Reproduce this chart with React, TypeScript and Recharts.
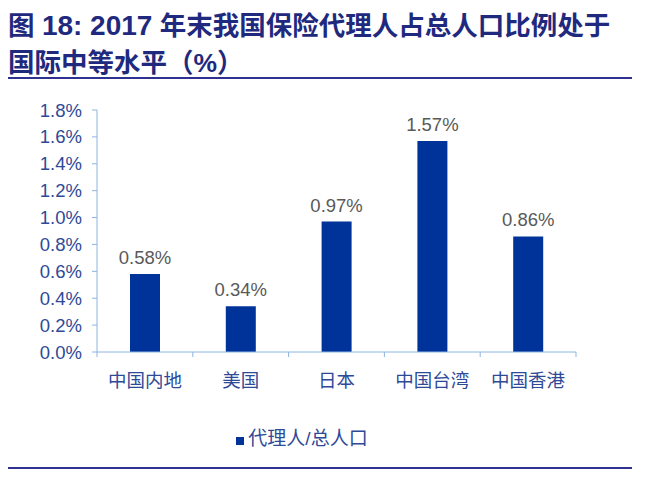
import React from 'react';
import { BarChart, Bar, XAxis, YAxis, Legend, LabelList } from 'recharts';

const regions = ['中国内地', '美国', '日本', '中国台湾', '中国香港'];
const agentShare = [0.58, 0.34, 0.97, 1.57, 0.86];
const yTicks = [0, 0.2, 0.4, 0.6, 0.8, 1.0, 1.2, 1.4, 1.6, 1.8];

const data = regions.map((name, i) => ({ name, value: agentShare[i] }));

const FONT = '"Liberation Sans", Arial, "Noto Sans CJK SC", sans-serif';
const AXIS_BLUE = '#8EB4E3';
const TEXT_BLUE = '#2E4A97';
const BAR_BLUE = '#003399';
// plot area is 479px wide, split into equal category bands
const BAND = 479 / regions.length;

const CategoryTick = (props: any) => {
  const { x, y, payload, index } = props;
  return (
    <g>
      {index === 0 && <line x1={x - BAND / 2} x2={x - BAND / 2} y1={y - 22} y2={y - 17} stroke={AXIS_BLUE} />}
      <line x1={x + BAND / 2} x2={x + BAND / 2} y1={y - 22} y2={y - 17} stroke={AXIS_BLUE} />
      <text x={x} y={y} dy="0.71em" textAnchor="middle" fill={TEXT_BLUE} fontSize={18.5} fontFamily={FONT}>
        {payload.value}
      </text>
    </g>
  );
};

const App: React.FC = () => {
  return (
    <div style={{ position: 'relative', width: 635, height: 462, fontFamily: FONT }}>
      <div
        style={{
          position: 'absolute', top: -1, left: 0, fontSize: 26.5, lineHeight: '37px',
          fontWeight: 'bold', color: '#1F2A7E', whiteSpace: 'nowrap',
        }}
      >
        <div>图 <span style={{ fontSize: 28 }}>18: 2017</span> 年末我国保险代理人占总人口比例处于</div>
        <div>国际中等水平（%）</div>
      </div>
      <div style={{ position: 'absolute', top: 69, left: 0, width: 624, height: 2, background: '#2E3192' }} />

      <div style={{ position: 'absolute', top: 82, left: 0 }}>
        <BarChart width={620} height={370} data={data} margin={{ top: 20, right: 52, left: 30, bottom: 13 }} barSize={30}>
          <YAxis
            domain={[0, 1.8]}
            ticks={yTicks}
            interval={0}
            width={59}
            tickSize={5}
            tickMargin={10}
            tickFormatter={(v: number) => `${v.toFixed(1)}%`}
            tick={{ fontSize: 18.5, fill: TEXT_BLUE, fontFamily: FONT }}
            axisLine={{ stroke: AXIS_BLUE }}
            tickLine={{ stroke: AXIS_BLUE }}
          />
          <XAxis
            dataKey="name"
            height={71}
            tickLine={false}
            tickMargin={0}
            interval={0}
            axisLine={{ stroke: AXIS_BLUE }}
            tick={(p: any) => <CategoryTick {...p} y={p.y + 16} />}
          />
          <Legend
            verticalAlign="bottom"
            height={24}
            iconType="square"
            iconSize={8}
            formatter={(v: string) => (
              <span style={{ color: TEXT_BLUE, fontSize: 19, fontFamily: FONT }}>{v}</span>
            )}
          />
          <Bar dataKey="value" name="代理人/总人口" fill={BAR_BLUE} isAnimationActive={false}>
            <LabelList
              dataKey="value"
              position="top"
              offset={10}
              formatter={(v: any) => `${Number(v).toFixed(2)}%`}
              style={{ fontSize: 18.5, fill: '#595959', fontFamily: FONT }}
            />
          </Bar>
        </BarChart>
      </div>

      <div style={{ position: 'absolute', top: 459, left: 0, width: 624, height: 2, background: '#2E3192' }} />
    </div>
  );
};

export default App;
